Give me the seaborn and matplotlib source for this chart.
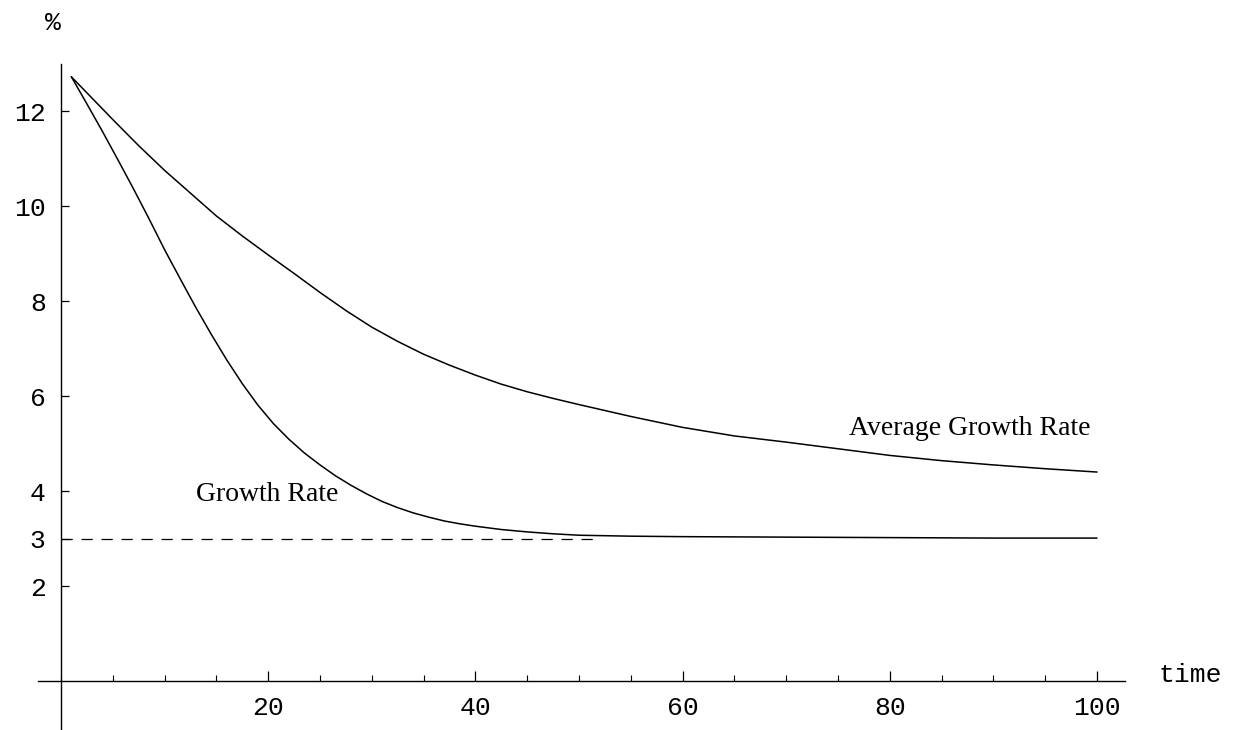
import numpy as np
import pandas as pd
import matplotlib
matplotlib.use('Agg')
import matplotlib.pyplot as plt
from matplotlib.ticker import MultipleLocator
import seaborn as sns

# valores
t_growth = [1, 2.5, 4, 5.5, 7, 8.5, 10, 11.5, 13, 14.5, 16, 17.5, 19, 20.5, 22, 23.5, 25,
            26.5, 28, 29.5, 31, 32.5, 34, 35.5, 37, 38.5, 40, 42.5, 45, 47.5, 50, 55, 60,
            70, 80, 90, 100]
growth_rate = [12.72, 12.15, 11.57, 10.97, 10.36, 9.73, 9.08, 8.47, 7.87, 7.30, 6.76, 6.26,
               5.81, 5.42, 5.09, 4.80, 4.55, 4.32, 4.12, 3.94, 3.78, 3.65, 3.54, 3.45, 3.37,
               3.31, 3.26, 3.19, 3.14, 3.10, 3.07, 3.05, 3.04, 3.03, 3.02, 3.01, 3.01]

t_avg = [1, 3, 5, 7.5, 10, 12.5, 15, 17.5, 20, 22.5, 25, 27.5, 30, 32.5, 35, 37.5, 40,
         42.5, 45, 47.5, 50, 55, 60, 65, 70, 75, 80, 85, 90, 95, 100]
avg_growth_rate = [12.72, 12.27, 11.82, 11.27, 10.75, 10.27, 9.79, 9.37, 8.97, 8.58, 8.18,
                   7.80, 7.45, 7.15, 6.88, 6.65, 6.44, 6.25, 6.09, 5.95, 5.82, 5.57, 5.34,
                   5.16, 5.03, 4.89, 4.75, 4.64, 4.55, 4.47, 4.40]

long_run = 3.0          # asintota punteada
long_run_t = [0, 52]

x_ticks = [20, 40, 60, 80, 100]
y_ticks = [2, 3, 4, 6, 8, 10, 12]

df_g = pd.DataFrame({'t': t_growth, 'rate': growth_rate})
df_a = pd.DataFrame({'t': t_avg, 'rate': avg_growth_rate})

sns.set_style('white')
plt.rcParams['text.color'] = 'black'
mono = ['Liberation Mono', 'DejaVu Sans Mono']
serif = ['Liberation Serif', 'DejaVu Serif']

fig = plt.figure(figsize=(12.5, 7.3), dpi=100)
ax = fig.add_axes([38 / 1250, 0.0, 1087 / 1250, 666.5 / 730])
ax.patch.set_alpha(0)

# curvas
sns.lineplot(data=df_a, x='t', y='rate', color='black', lw=1.1, ax=ax)
sns.lineplot(data=df_g, x='t', y='rate', color='black', lw=1.1, ax=ax)
ax.plot(long_run_t, [long_run, long_run], color='black', lw=0.9, dashes=(9, 7))

ax.set_xlim(-2.22, 102.7)
ax.set_ylim(-1.03, 13.0)

# ejes estilo mathematica
for s in ['top', 'right']:
    ax.spines[s].set_visible(False)
for s in ['left', 'bottom']:
    ax.spines[s].set_position(('data', 0))
    ax.spines[s].set_color('black')
    ax.spines[s].set_linewidth(1.0)

ax.set_xticks(x_ticks)
ax.set_xticklabels([str(v) for v in x_ticks])
ax.xaxis.set_minor_locator(MultipleLocator(5))
ax.set_yticks(y_ticks)
ax.set_yticklabels([str(v) for v in y_ticks])

ax.tick_params(axis='x', which='major', direction='in', length=7, width=0.9,
               pad=11, labelsize=19, color='black', bottom=True)
ax.tick_params(axis='x', which='minor', direction='in', length=4, width=0.8,
               color='black', bottom=True)
ax.tick_params(axis='y', which='major', direction='in', length=6, width=0.9,
               pad=11, labelsize=19, color='black', left=True)
for lab in ax.get_xticklabels() + ax.get_yticklabels():
    lab.set_family(mono)
    lab.set_color('black')

ax.set_xlabel('')
ax.set_ylabel('')

ax.text(-0.8, 13.85, '%', family=mono, fontsize=19, ha='center', va='center',
        color='black', clip_on=False)
ax.text(105.9, 0.12, 'time', family=mono, fontsize=19, ha='left', va='center',
        color='black', clip_on=False)
ax.text(13.0, 3.79, 'Growth Rate', family=serif, fontsize=20, ha='left', va='baseline',
        color='black')
ax.text(76.1, 5.19, 'Average Growth Rate', family=serif, fontsize=20, ha='left',
        va='baseline', color='black')

fig.savefig('out.png', dpi=100)
